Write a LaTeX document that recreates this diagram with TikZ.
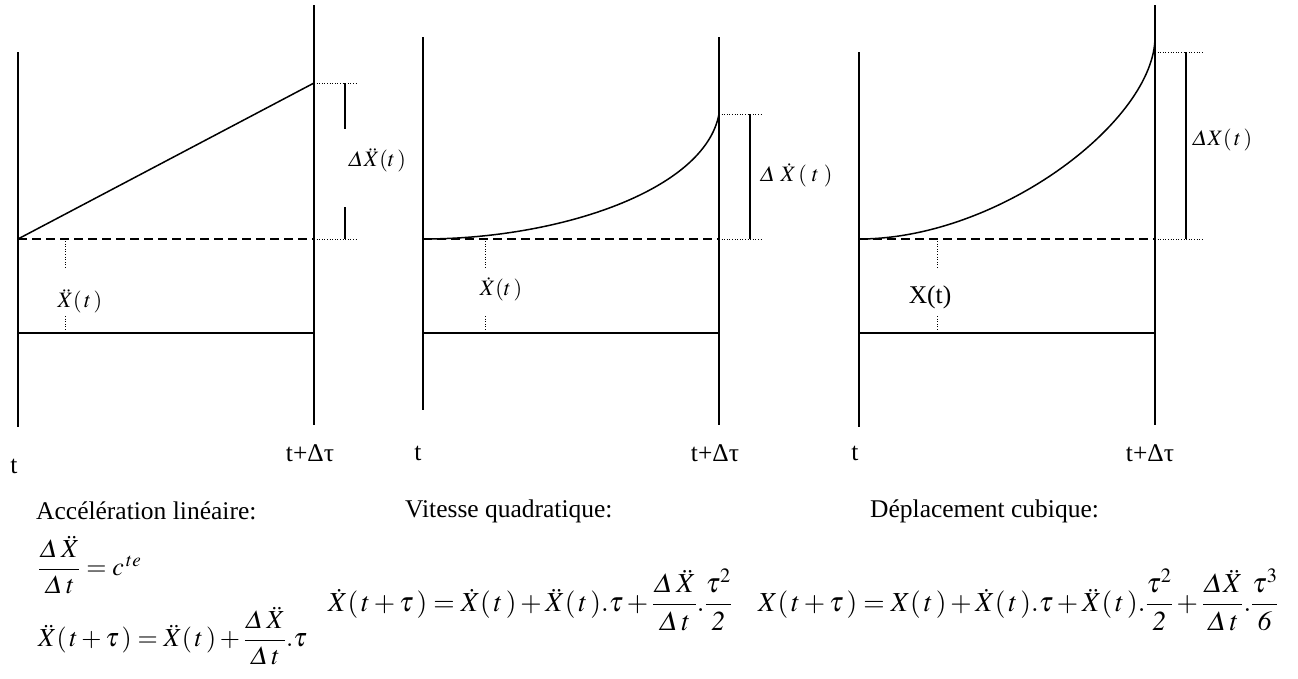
\documentclass[tikz,border=0pt]{standalone}
\usepackage{amsmath}
\usepackage{mathptmx}
\usepackage{fontspec}
\setmainfont{Liberation Serif}
\usetikzlibrary{positioning}

\begin{document}
\begin{tikzpicture}[x=1pt, y=-1pt, every node/.style={font=\fontsize{25.5}{30}\selectfont, inner sep=0pt}, axis/.style={line width=1.5pt}, ref/.style={line width=1.5pt, dash pattern=on 9pt off 5pt}, aux/.style={line width=0.7pt, dash pattern=on 1pt off 1.6pt}, lbl/.style={font=\fontsize{22}{26}\selectfont}, eqn/.style={anchor=west, font=\fontsize{27.5}{32}\selectfont}]
\useasboundingbox (0,0) rectangle (1298,678);

% panel 1: linear acceleration
\coordinate (acc-l1) at (18,52); \coordinate (acc-l2) at (18,427);
\coordinate (acc-r1) at (314,5); \coordinate (acc-r2) at (314,425);
\coordinate (acc-a) at (18,239); \coordinate (acc-b) at (314,239);
\coordinate (acc-c) at (18,333); \coordinate (acc-d) at (314,333);
\coordinate (acc-e) at (314,83);
\draw[axis] (acc-l1) -- (acc-l2); \draw[axis] (acc-r1) -- (acc-r2);
\draw[axis] (acc-c) -- (acc-d);
\draw[ref] (acc-a) -- (acc-b);
\draw[axis] (acc-a) -- (acc-e);
\coordinate (acc-h1) at (357,83); \coordinate (acc-h2) at (357,239);
\draw[aux] (acc-e) -- (acc-h1); \draw[aux] (acc-b) -- (acc-h2);
\coordinate (acc-v1) at (345,83); \coordinate (acc-v2) at (345,129);
\coordinate (acc-v3) at (345,207); \coordinate (acc-v4) at (345,239);
\draw[axis] (acc-v1) -- (acc-v2); \draw[axis] (acc-v3) -- (acc-v4);
\node[lbl] (acc-dx) at (377,160) {$\varDelta\ddot X(t\,)$};
\node[lbl] (acc-x) at (80,301) {$\ddot X(\,t\,)$};
\coordinate (acc-m1) at (65,241); \coordinate (acc-m2) at (65,268);
\coordinate (acc-m3) at (65,316); \coordinate (acc-m4) at (65,331);
\draw[aux] (acc-m1) -- (acc-m2); \draw[aux] (acc-m3) -- (acc-m4);
\node (acc-t0) at (14,466) {t};
\node (acc-t1) at (310,453) {t+Δτ};

% panel 2: quadratic velocity
\coordinate (vit-l1) at (423,37); \coordinate (vit-l2) at (423,410);
\coordinate (vit-r1) at (719,37); \coordinate (vit-r2) at (719,425);
\coordinate (vit-a) at (423,239); \coordinate (vit-b) at (719,239);
\coordinate (vit-c) at (423,333); \coordinate (vit-d) at (719,333);
\coordinate (vit-e) at (719,114);
\draw[axis] (vit-l1) -- (vit-l2); \draw[axis] (vit-r1) -- (vit-r2);
\draw[axis] (vit-c) -- (vit-d);
\draw[ref] (vit-a) -- (vit-b);
\draw[axis] (vit-a) .. controls (560,239) and (705,190) .. (vit-e);
\coordinate (vit-h1) at (763,114); \coordinate (vit-h2) at (763,239);
\draw[aux] (vit-e) -- (vit-h1); \draw[aux] (vit-b) -- (vit-h2);
\coordinate (vit-v1) at (750,114); \coordinate (vit-v2) at (750,239);
\draw[axis] (vit-v1) -- (vit-v2);
\node[lbl] (vit-dx) at (796,175) {$\varDelta\;\dot X\,(\;t\;)$};
\node[lbl] (vit-x) at (501,289) {$\dot X(t\,)$};
\coordinate (vit-m1) at (485,241); \coordinate (vit-m2) at (485,268);
\coordinate (vit-m3) at (485,316); \coordinate (vit-m4) at (485,331);
\draw[aux] (vit-m1) -- (vit-m2); \draw[aux] (vit-m3) -- (vit-m4);
\node (vit-t0) at (418,453) {t};
\node (vit-t1) at (715,453) {t+Δτ};

% panel 3: cubic displacement
\coordinate (dep-l1) at (859,52); \coordinate (dep-l2) at (859,427);
\coordinate (dep-r1) at (1155,5); \coordinate (dep-r2) at (1155,425);
\coordinate (dep-a) at (859,239); \coordinate (dep-b) at (1155,239);
\coordinate (dep-c) at (859,333); \coordinate (dep-d) at (1155,333);
\coordinate (dep-e) at (1155,37); \coordinate (dep-f) at (1155,52);
\draw[axis] (dep-l1) -- (dep-l2); \draw[axis] (dep-r1) -- (dep-r2);
\draw[axis] (dep-c) -- (dep-d);
\draw[ref] (dep-a) -- (dep-b);
\draw[axis] (dep-a) .. controls (1000,239) and (1155,120) .. (dep-e);
\coordinate (dep-h1) at (1203,52); \coordinate (dep-h2) at (1203,239);
\draw[aux] (dep-f) -- (dep-h1); \draw[aux] (dep-b) -- (dep-h2);
\coordinate (dep-v1) at (1186,52); \coordinate (dep-v2) at (1186,239);
\draw[axis] (dep-v1) -- (dep-v2);
\node[lbl] (dep-dx) at (1222,140) {$\varDelta X(\,t\,)$};
\node (dep-x) at (930,297) {X(t)};
\coordinate (dep-m1) at (937,241); \coordinate (dep-m2) at (937,268);
\coordinate (dep-m3) at (937,316); \coordinate (dep-m4) at (937,331);
\draw[aux] (dep-m1) -- (dep-m2); \draw[aux] (dep-m3) -- (dep-m4);
\node (dep-t0) at (855,453) {t};
\node (dep-t1) at (1150,453) {t+Δτ};

% captions and formulas
\node[anchor=west] (acc-cap) at (36,511) {Accélération linéaire:};
\node[anchor=west] (vit-cap) at (405,511) {Vitesse quadratique:};
\node[anchor=west] (dep-cap) at (870,511) {Déplacement cubique:};
\node[eqn, font=\fontsize{26}{30}\selectfont] (acc-eq1) at (38,565) {$\dfrac{\varDelta\,\ddot X}{\varDelta\,t}=c^{\,te}$};
\node[eqn, font=\fontsize{26}{30}\selectfont] (acc-eq2) at (38,636) {$\ddot X(\,t+\tau\,)=\ddot X(\,t\,)+\dfrac{\varDelta\,\ddot X}{\varDelta\,t}.\tau$};
\node[eqn] (vit-eq) at (328,600) {$\dot X(\,t+\tau\,)=\dot X(\,t\,)+\ddot X(\,t\,).\tau+\dfrac{\varDelta\,\ddot X}{\varDelta\,t}.\dfrac{\tau^2}{\mathit{2}}$};
\node[eqn] (dep-eq) at (758,600) {$X(\,t+\tau\,)=X(\,t\,)+\dot X(\,t\,).\tau+\ddot X(\,t\,).\dfrac{\tau^2}{\mathit{2}}+\dfrac{\varDelta\ddot X}{\varDelta\,t}.\dfrac{\tau^3}{\mathit{6}}$};
\end{tikzpicture}
\end{document}
